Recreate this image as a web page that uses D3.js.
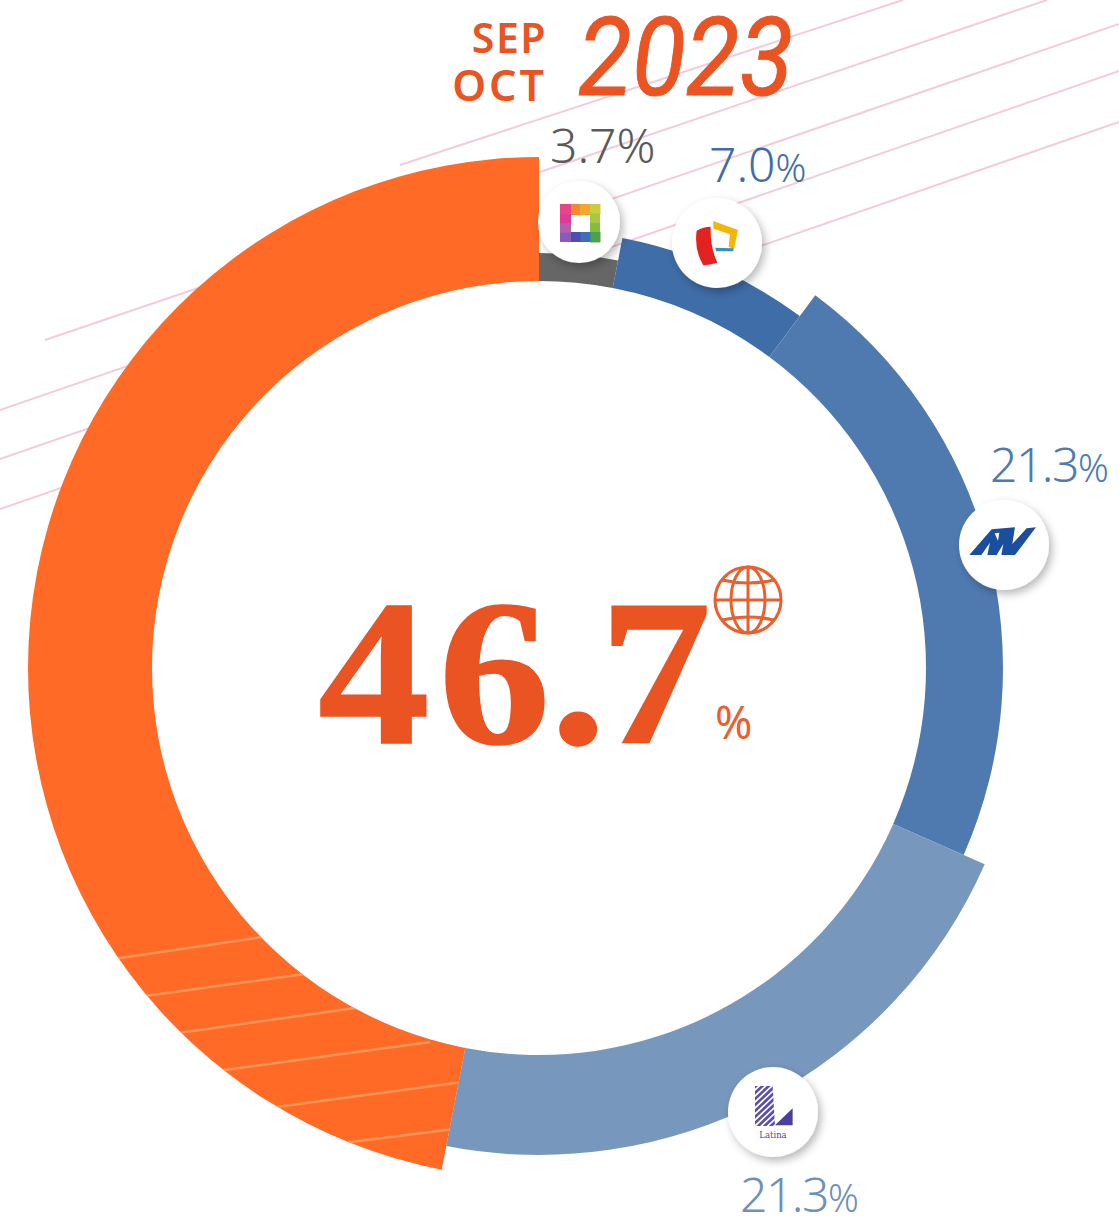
<!DOCTYPE html>
<html><head><meta charset="utf-8">
<script src="https://cdn.jsdelivr.net/npm/d3@7"></script>
<style>html,body{margin:0;padding:0;background:#fff;overflow:hidden}svg{display:block}</style>
</head><body><script>
// ---- data ----
const channels = ["Otros", "Panamericana", "ATV", "Latina", "América TV"];
const labelValues = [3.7, 7.0, 21.3, 21.3, 46.7];
const arcShares = [3.05, 7.1, 21.45, 21.45, 46.95];
const outerRadii = [415, 438, 464, 487, 511];
const colors = ["#666666", "#3F6DA8", "#4F7AB0", "#7897BD", "#FF6A26"];
const periodLines = ["SEP", "OCT"];
const yearText = "2023";

// ---- layout ----
const W = 1119, H = 1217, cx = 539, cy = 668, innerR = 387;
const svg = d3.select("body").append("svg").attr("width", W).attr("height", H);
const defs = svg.append("defs");
const shadow = defs.append("filter").attr("id", "sh").attr("x", "-30%").attr("y", "-30%").attr("width", "170%").attr("height", "170%");
shadow.append("feDropShadow").attr("dx", 3).attr("dy", 4).attr("stdDeviation", 4).attr("flood-color", "#000").attr("flood-opacity", .28);

// background pink diagonals
const bgLines = [[[400,165],[903,0]],[[45,340],[1047,0]],[[0,410],[1119,24]],[[0,459],[1119,71]],[[0,509],[1119,122]]];
svg.append("g").selectAll("line").data(bgLines).join("line")
  .attr("x1", d=>d[0][0]).attr("y1", d=>d[0][1]).attr("x2", d=>d[1][0]).attr("y2", d=>d[1][1])
  .attr("stroke", "#F3CBDD").attr("stroke-width", 2);

// ring
const pie = d3.pie().sort(null).value(d=>d);
const arcs = pie(arcShares);
const ring = svg.append("g").attr("transform", `translate(${cx},${cy})`);
ring.append("circle").attr("r", innerR).attr("fill", "#fff");
ring.selectAll("path").data(arcs).join("path")
  .attr("d", (d,i)=>d3.arc().innerRadius(innerR).outerRadius(outerRadii[i])(d))
  .attr("fill", (d,i)=>colors[i]);

// hatch on the orange slice
const clipD = d3.arc().innerRadius(innerR).outerRadius(outerRadii[4])(arcs[4]);
defs.append("clipPath").attr("id", "oc").append("path").attr("d", clipD).attr("transform", `translate(${cx},${cy})`);
const hatch = [[[100,961],[262,937]],[[130,998],[305,974]],[[165,1035],[355,1008]],[[210,1072],[430,1042]],[[262,1109],[470,1081]],[[335,1144],[470,1127]]];
svg.append("g").attr("clip-path", "url(#oc)").selectAll("line").data(hatch).join("line")
  .attr("x1", d=>d[0][0]).attr("y1", d=>d[0][1]).attr("x2", d=>d[1][0]).attr("y2", d=>d[1][1])
  .attr("stroke", "#FF9556").attr("stroke-width", 2.5);

// badges
const badges = [[579,222,41],[717,243,45],[1004,545,45],[773,1112,45]];
svg.append("g").selectAll("circle").data(badges).join("circle")
  .attr("cx", d=>d[0]).attr("cy", d=>d[1]).attr("r", d=>d[2]).attr("fill", "#fff").attr("filter", "url(#sh)");

// logo 1: colour square
const sq = svg.append("g").attr("transform", "translate(560,204)");
const sqTop = ["#E8503A","#F08A2A","#F2A92B","#E9C23A"], sqRight = ["#C3CF3E","#A4C83F","#7FBE3E","#5DB03C"],
      sqBottom = ["#4FA04A","#3B70B8","#4A4FB5","#6A45B0"], sqLeft = ["#8A5AB8","#B25FB0","#E03A96","#E8448A"];
const seg = 10, th = 11;
sqTop.forEach((c,i)=>sq.append("rect").attr("x",i*seg).attr("y",0).attr("width",seg+.5).attr("height",th).attr("fill",c));
sqRight.forEach((c,i)=>sq.append("rect").attr("x",30).attr("y",i*9.5).attr("width",10).attr("height",10).attr("fill",c));
sqBottom.forEach((c,i)=>sq.append("rect").attr("x",30-i*seg).attr("y",28).attr("width",seg+.5).attr("height",10).attr("fill",c));
sqLeft.forEach((c,i)=>sq.append("rect").attr("x",0).attr("y",28-i*9.3).attr("width",th).attr("height",10).attr("fill",c));

// logo 2: Panamericana
const lg2 = svg.append("g").attr("transform", "translate(540,180) scale(.3333)");
lg2.append("path").attr("d","M470,152 Q490,140 512,140 Q510,200 532,248 Q510,254 490,256 Q462,210 470,152Z").attr("fill","#E2231F");
lg2.append("path").attr("d","M520,123 L594,150 L582,208 L566,200 L570,163 L520,146Z").attr("fill","#F2B705");
lg2.append("path").attr("d","M526,203 L580,205 L580,214 L528,214Z").attr("fill","#3D8FC0");

// logo 3: ATV
const lg3 = svg.append("g").attr("transform", "translate(900,420) scale(.3333)").attr("fill","#1A4E9E");
lg3.append("path").attr("d","M208,405 L275,328 L345,322 L337,372 L380,325 L408,322 L345,405 L304,405 L310,372 L290,405 L262,405 L270,368 L244,405Z");
lg3.append("path").attr("d","M284,340 L298,338 L294,362Z").attr("fill","#fff");

// logo 4: Latina
const lg4 = svg.append("g").attr("transform", "translate(680,1050) scale(.3333)");
defs.append("clipPath").attr("id","lc").append("path").attr("d","M225,108 L278,108 L285,228 L225,228Z");
const st = lg4.append("g").attr("clip-path","url(#lc)");
d3.range(10).forEach(i=>st.append("line").attr("x1",205).attr("y1",130+i*18).attr("x2",300).attr("y2",40+i*18).attr("stroke","#5A4EA6").attr("stroke-width",8));
lg4.append("path").attr("d","M285,226 L338,226 L338,175Z").attr("fill","#4A3FA0");
svg.append("text").attr("x",773).attr("y",1138).attr("text-anchor","middle").attr("font-family","DejaVu Serif")
  .attr("font-size",8.5).attr("fill","#4A4A90").text("Latina");

// title
const orangeText = "#EA5322";
svg.append("g").selectAll("text").data(periodLines).join("text")
  .attr("x", 547).attr("y", (d,i)=>i?101:53).attr("text-anchor","end")
  .attr("font-family","Noto Sans").attr("font-weight",600).attr("font-size",(d,i)=>i?43:41)
  .attr("letter-spacing",(d,i)=>i?3:1.5).attr("fill",orangeText).text(d=>d);
svg.append("text").attr("transform","translate(578,95) scale(.9,1)").attr("font-family","Roboto")
  .attr("font-style","italic").attr("font-weight",400).attr("font-size",110).attr("fill",orangeText)
  .attr("stroke",orangeText).attr("stroke-width",1).text(yearText);

// value labels
const fmt = d3.format(".1f");
const labelPos = [[550,163],[709,182],[990,482],[740,1212]];
const labelCol = ["#5A5A5A","#3F6DA8","#4F7AB0","#6F90B8"];
const labelTrack = [0,0,-1.5,-1.5];
labelValues.slice(0,4).forEach((v,i)=>{
  const t = svg.append("text").attr("x",labelPos[i][0]).attr("y",labelPos[i][1])
    .attr("font-family","Noto Sans").attr("font-weight",300).attr("font-size",48).attr("letter-spacing",labelTrack[i]).attr("fill",labelCol[i]);
  t.append("tspan").text(fmt(v));
  t.append("tspan").attr("font-size", i===0?48:38).attr("letter-spacing",0).text("%");
});

// centre value
svg.append("text").attr("transform","translate(318,743) scale(1.08,1)").attr("font-family","Liberation Serif")
  .attr("font-weight",700).attr("font-size",207).attr("fill",orangeText).attr("stroke",orangeText).attr("stroke-width",1.5)
  .attr("dx","0 8 0 -6").text(fmt(labelValues[4]));
svg.append("text").attr("x",715).attr("y",739).attr("font-family","Noto Sans").attr("font-weight",400).attr("font-size",45).attr("fill","#E8602F").text("%");

// globe
const gl = svg.append("g").attr("transform","translate(748,600)").attr("fill","none").attr("stroke","#E8602F").attr("stroke-width",3);
const gr = 33;
gl.append("circle").attr("r",gr);
gl.append("ellipse").attr("rx",17).attr("ry",gr);
gl.append("line").attr("x1",0).attr("x2",0).attr("y1",-gr).attr("y2",gr);
gl.append("line").attr("x1",-gr).attr("x2",gr).attr("y1",0).attr("y2",0);
gl.append("path").attr("d","M-26,-20 Q0,-14 26,-20");
gl.append("path").attr("d","M-26,20 Q0,14 26,20");
</script></body></html>
